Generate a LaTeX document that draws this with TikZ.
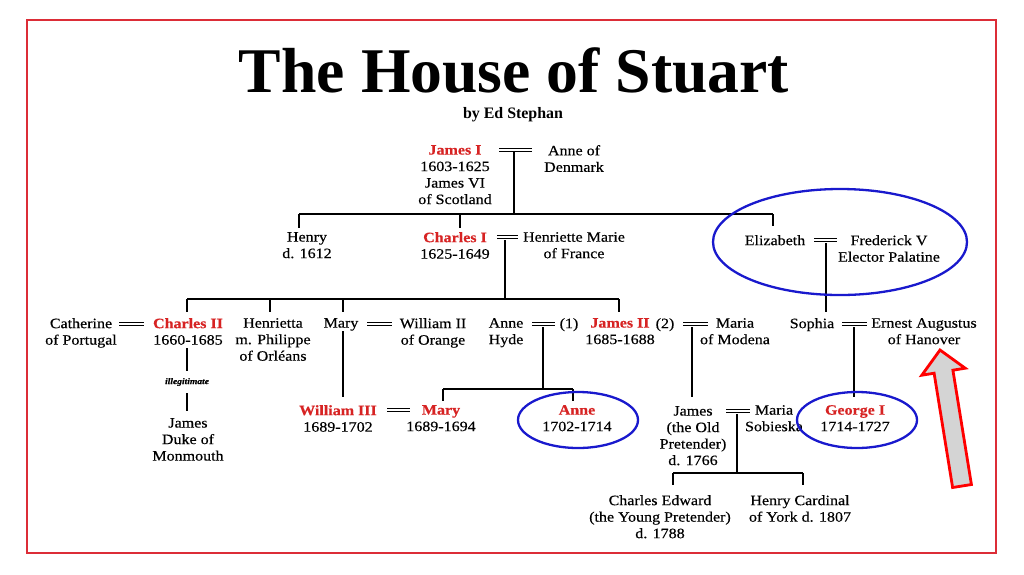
\documentclass[tikz,border=0pt]{standalone}
\usepackage{fontspec}
\usepackage{graphicx}
\newfontfamily\treefont{Liberation Serif}[FakeStretch=1.12,FakeBold=0.35]
\newfontfamily\titlefont{Liberation Serif}
\definecolor{royalred}{RGB}{215,35,35}
\definecolor{ringblue}{RGB}{25,25,205}
\definecolor{framered}{RGB}{220,45,55}
\definecolor{arrowgray}{RGB}{212,212,212}
\newcommand\kingname[1]{\textcolor{royalred}{\bfseries #1}}
\begin{document}
\begin{tikzpicture}[x=1pt,y=-1pt,
  person/.style={anchor=north, align=center, inner sep=0pt, font={\treefont\fontsize{14.3}{16.5}\selectfont}},
  tline/.style={line width=1.5pt, black},
  marr/.style={double, double distance=1.1pt, line width=1.4pt, black},
  ring/.style={draw=ringblue, line width=2.3pt},
  frameline/.style={draw=framered, line width=1.6pt}]
\useasboundingbox (0,0) rectangle (1024,574);
\fill[white] (0,0) rectangle (1024,574);
\draw[frameline] (27,20) rectangle (996,553);

% title
\node[anchor=base, inner sep=0pt] (title) at (514,92) {\resizebox{550pt}{!}{\titlefont\bfseries The House of Stuart}};
\node[anchor=base, inner sep=0pt] (author) at (513,118) {\resizebox{100pt}{!}{\titlefont\bfseries by Ed Stephan}};

% row 1
\node[person] (jamesI) at (455,145) {\kingname{James I}\\1603-1625\\James VI\\of Scotland};
\node[person] (anneD) at (574,145) {Anne of\\Denmark};
% row 2
\node[person] (henry) at (307,232) {Henry\\d. 1612};
\node[person] (charlesI) at (455,232) {\kingname{Charles I}\\1625-1649};
\node[person] (henrietteM) at (574,232) {Henriette Marie\\of France};
\node[person] (elizabeth) at (775,235) {Elizabeth};
\node[person] (frederick) at (889,235) {Frederick V\\Elector Palatine};
% row 3
\node[person] (catherine) at (81,318) {Catherine\\of Portugal};
\node[person] (charlesII) at (188,318) {\kingname{Charles II}\\1660-1685};
\node[inner sep=0pt, font={\treefont\fontsize{8.5}{10}\selectfont\bfseries\itshape}] (illeg) at (187,382) {illegitimate};
\node[person] (monmouth) at (188,418) {James\\Duke of\\Monmouth};
\node[person] (henrietta) at (273,318) {Henrietta\\m. Philippe\\of Orléans};
\node[person] (mary) at (341,318) {Mary};
\node[person] (williamII) at (433,318) {William II\\of Orange};
\node[person] (anneH) at (506,318) {Anne\\Hyde};
\node[person] (one) at (569,318) {(1)};
\node[person] (jamesII) at (620,318) {\kingname{James II}\\1685-1688};
\node[person] (two) at (665,318) {(2)};
\node[person] (mariaM) at (735,318) {Maria\\of Modena};
\node[person] (sophia) at (812,318) {Sophia};
\node[person] (ernest) at (924,318) {Ernest Augustus\\of Hanover};
% row 4
\node[person] (williamIII) at (338,405) {\kingname{William III}\\1689-1702};
\node[person] (maryII) at (441,405) {\kingname{Mary}\\1689-1694};
\node[person] (anne) at (577,405) {\kingname{Anne}\\1702-1714};
\node[person] (jamesOP) at (693,406) {James\\(the Old\\Pretender)\\d. 1766};
\node[person] (mariaS) at (774,405) {Maria\\Sobieska};
\node[person] (georgeI) at (855,405) {\kingname{George I}\\1714-1727};
% row 5
\node[person] (charlesE) at (660,495) {Charles Edward\\(the Young Pretender)\\d. 1788};
\node[person] (henryC) at (800,495) {Henry Cardinal\\of York d. 1807};

% marriage symbols
\coordinate (m1a) at (499,150); \coordinate (m1b) at (532,150);
\coordinate (m2a) at (497,237); \coordinate (m2b) at (518,237);
\coordinate (m3a) at (814,240); \coordinate (m3b) at (837,240);
\coordinate (m4a) at (119,324); \coordinate (m4b) at (144,324);
\coordinate (m5a) at (367,324); \coordinate (m5b) at (392,324);
\coordinate (m6a) at (532,324); \coordinate (m6b) at (555,324);
\coordinate (m7a) at (683,324); \coordinate (m7b) at (708,324);
\coordinate (m8a) at (842,324); \coordinate (m8b) at (867,324);
\coordinate (m9a) at (387,410); \coordinate (m9b) at (410,410);
\coordinate (m10a) at (726,411); \coordinate (m10b) at (750,411);
\foreach \m in {1,...,10} {\draw[marr] (m\m a) -- (m\m b);}

% James I family
\coordinate (s1) at (514,152);
\coordinate (b1) at (514,214);
\draw[tline] (s1) -- (b1);
\coordinate (b1l) at (299,214); \coordinate (b1r) at (773,214);
\draw[tline] (b1l) -- (b1r);
\draw[tline] (b1l) -- (299,228);
\draw[tline] (460,214) -- (460,228);
\draw[tline] (b1r) -- (773,226);

% Charles I family
\coordinate (s2) at (505,240);
\draw[tline] (s2) -- (505,299);
\draw[tline] (187,299) -- (619,299);
\foreach \x in {187,270,343,619} {\draw[tline] (\x,299) -- (\x,312);}

% Elizabeth -> Sophia
\draw[tline] (826,243) -- (826,312);

% Charles II -> Monmouth
\coordinate (c2a) at (187,348); \coordinate (c2b) at (187,371);
\coordinate (c2c) at (187,393); \coordinate (c2d) at (187,411);
\draw[tline] (c2a) -- (c2b);
\draw[tline] (c2c) -- (c2d);

% Mary -> William III
\draw[tline] (343,331) -- (343,397);
% Anne Hyde & James II
\draw[tline] (543,327) -- (543,389);
\draw[tline] (443,389) -- (573,389);
\draw[tline] (443,389) -- (443,401);
\draw[tline] (573,389) -- (573,401);
% James II & Maria of Modena
\draw[tline] (692,327) -- (692,397);
% Sophia -> George I
\draw[tline] (854,327) -- (854,397);
% James OP -> children
\draw[tline] (737,414) -- (737,473);
\draw[tline] (673,473) -- (803,473);
\draw[tline] (673,473) -- (673,485);
\draw[tline] (803,473) -- (803,485);

% rings
\draw[ring] (840,242) ellipse [x radius=127pt, y radius=53pt];
\draw[ring] (578,420) ellipse [x radius=60pt, y radius=28pt];
\draw[ring] (857,420) ellipse [x radius=60pt, y radius=28pt];

% big arrow
\draw[draw=red, line width=2.8pt, fill=arrowgray, line join=miter]
  (952.6,487.5) -- (934.1,373.2) -- (921.8,375.2) -- (940,350) -- (965.2,368.2) -- (952.9,370.2) -- (971.4,484.5) -- cycle;
\end{tikzpicture}
\end{document}
